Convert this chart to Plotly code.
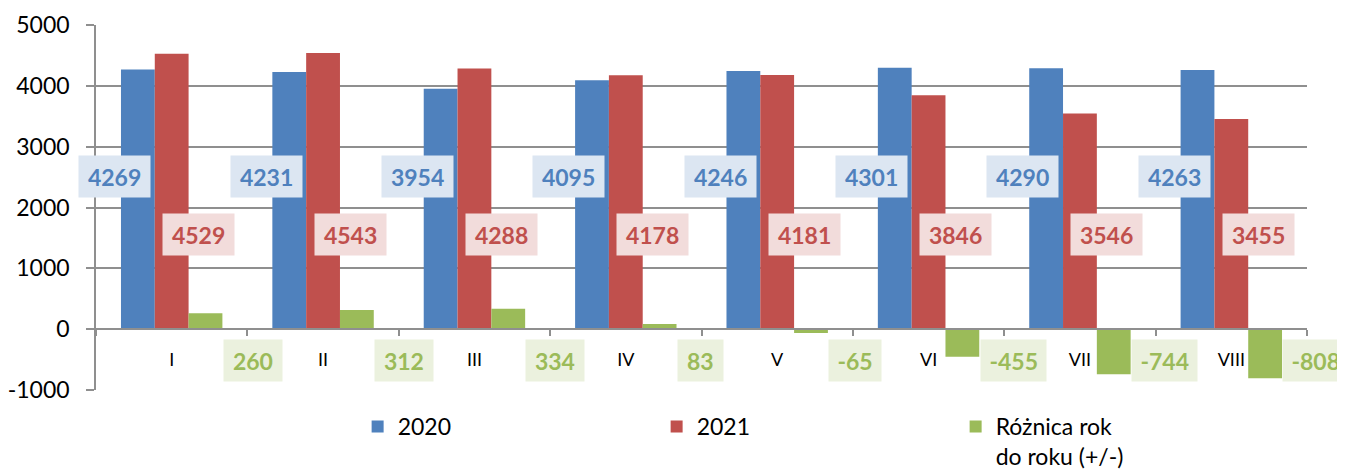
import plotly.graph_objects as go

# ---- data ----
months = ["I", "II", "III", "IV", "V", "VI", "VII", "VIII"]
values_2020 = [4269, 4231, 3954, 4095, 4246, 4301, 4290, 4263]
values_2021 = [4529, 4543, 4288, 4178, 4181, 3846, 3546, 3455]
values_diff = [260, 312, 334, 83, -65, -455, -744, -808]
series_names = ["2020", "2021", "Różnica rok<br>do roku (+/-)"]
y_tick_vals = [-1000, 0, 1000, 2000, 3000, 4000, 5000]
y_tick_text = ["-1000", "0", "1000", "2000", "3000", "4000", "5000"]

# ---- style ----
FONT = "Lato"
C_BLUE, C_RED, C_GREEN = "#4F81BD", "#C0504D", "#9BBB59"
BG_BLUE, BG_RED, BG_GREEN = "#DCE6F2", "#F2DCDB", "#EBF1DE"
GRID = "#8f8f8f"
LBL_Y_2020, LBL_Y_2021, LBL_Y_DIFF = 2510, 1555, -525

fig = go.Figure()
for name, vals, col in zip(series_names, [values_2020, values_2021, values_diff],
                           [C_BLUE, C_RED, C_GREEN]):
    fig.add_trace(go.Bar(x=months, y=vals, name=name,
                         marker=dict(color=col, line=dict(width=0))))


def box_w(t):
    return sum(7.5 if c == "-" else 13.3 for c in t) + 10


annotations = []
for i, m in enumerate(months):
    for val, y, xs, anchor, fg, bg in [
        (values_2020[i], LBL_Y_2020, -57, "center", C_BLUE, BG_BLUE),
        (values_2021[i], LBL_Y_2021, 27, "center", C_RED, BG_RED),
        (values_diff[i], LBL_Y_DIFF, 51, "left", C_GREEN, BG_GREEN),
    ]:
        t = str(val)
        annotations.append(dict(
            x=m, y=y, xref="x", yref="y", text=t, showarrow=False,
            xshift=xs, xanchor=anchor, yanchor="middle",
            bgcolor=bg, borderpad=4, width=box_w(t), height=33,
            font=dict(family=FONT, size=23, color=fg, weight="bold"),
        ))

fig.update_layout(
    width=1337, height=462,
    margin=dict(l=88, r=38, t=17, b=80, autoexpand=False),
    paper_bgcolor="white", plot_bgcolor="white",
    barmode="group", bargap=0.33, bargroupgap=0,
    font=dict(family=FONT, size=23, color="black"),
    annotations=annotations,
    legend=dict(orientation="h", xref="container", yref="container",
                x=0.2615, y=0.1407, xanchor="left", yanchor="top",
                font=dict(family=FONT, size=23, color="black"),
                entrywidth=254, entrywidthmode="pixels", valign="top",
                bgcolor="rgba(0,0,0,0)"),
    xaxis=dict(type="category", range=[-0.5, len(months) - 0.5],
               anchor="free", position=1 / 6, automargin=False,
               showline=True, linecolor=GRID, linewidth=1.5,
               ticks="outside", tickson="boundaries", ticklen=6,
               tickcolor=GRID, tickwidth=1.5, showgrid=False,
               ticklabelstandoff=14,
               tickfont=dict(family=FONT, size=18, color="black")),
    yaxis=dict(range=[-1003, 5003], tickvals=y_tick_vals, ticktext=y_tick_text,
               automargin=False,
               showline=True, linecolor=GRID, linewidth=1.5,
               ticks="outside", ticklen=8, tickcolor=GRID, tickwidth=1.5,
               showgrid=True, gridcolor=GRID, gridwidth=1.5, zeroline=False,
               ticklabelstandoff=12,
               tickfont=dict(family=FONT, size=23, color="black")),
)

fig.write_html("out.html")
